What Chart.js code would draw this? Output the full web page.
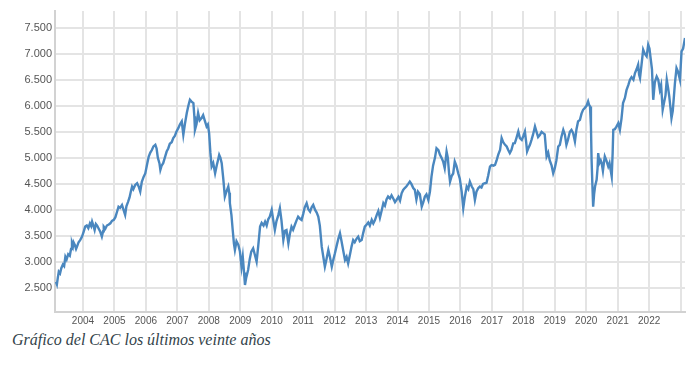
<!DOCTYPE html>
<html>
<head>
<meta charset="utf-8">
<script src="https://cdn.jsdelivr.net/npm/chart.js@4"></script>
<style>
body { margin: 0; background: #fff; }
#wrap { position: absolute; left: 0; top: 0; width: 694px; height: 330px; }
#caption {
  position: absolute; left: 12px; top: 331px;
  font-family: "Times New Roman", "Liberation Serif", Times, serif;
  font-style: italic; font-size: 16px; color: #33434a;
}
</style>
</head>
<body>
<div id="wrap"><canvas id="cacChart"></canvas></div>
<div id="caption">Gráfico del CAC los últimos veinte años</div>
<script>
// tick labels
const yearTicks = [2004, 2005, 2006, 2007, 2008, 2009, 2010, 2011, 2012, 2013, 2014, 2015, 2016, 2017, 2018, 2019, 2020, 2021, 2022, 2023];
const valueTicks = [2500, 3000, 3500, 4000, 4500, 5000, 5500, 6000, 6500, 7000, 7500];

// CAC 40 (decimal year, index points)
const years = [
2003.14, 2003.17, 2003.20, 2003.23, 2003.27, 2003.31, 2003.36, 2003.40, 2003.44, 2003.48, 2003.53, 2003.58, 2003.62, 2003.65, 2003.68, 2003.70, 2003.74, 2003.78, 2003.81, 2003.86, 2003.91, 2003.97,
2004.02, 2004.07, 2004.12, 2004.17, 2004.22, 2004.26, 2004.29, 2004.33, 2004.37, 2004.41, 2004.45, 2004.50, 2004.55, 2004.60, 2004.64, 2004.66, 2004.71, 2004.76, 2004.82, 2004.87, 2004.92, 2004.98,
2005.03, 2005.08, 2005.13, 2005.18, 2005.24, 2005.29, 2005.34, 2005.38, 2005.43, 2005.48, 2005.52, 2005.56, 2005.60, 2005.66, 2005.72, 2005.77, 2005.82, 2005.87, 2005.93, 2005.98,
2006.04, 2006.09, 2006.14, 2006.19, 2006.24, 2006.30, 2006.34, 2006.38, 2006.43, 2006.46, 2006.50, 2006.55, 2006.60, 2006.66, 2006.71, 2006.76, 2006.82, 2006.87, 2006.92, 2006.97,
2007.03, 2007.08, 2007.14, 2007.19, 2007.24, 2007.30, 2007.35, 2007.40, 2007.45, 2007.51, 2007.54, 2007.56, 2007.61, 2007.66, 2007.71, 2007.77, 2007.82, 2007.88, 2007.93, 2007.97,
2008.01, 2008.05, 2008.09, 2008.14, 2008.20, 2008.25, 2008.29, 2008.33, 2008.37, 2008.41, 2008.46, 2008.51, 2008.56, 2008.62, 2008.65, 2008.67, 2008.72, 2008.76, 2008.80, 2008.83, 2008.88, 2008.94, 2008.99,
2009.04, 2009.08, 2009.12, 2009.15, 2009.19, 2009.25, 2009.30, 2009.35, 2009.41, 2009.46, 2009.52, 2009.57, 2009.63, 2009.68, 2009.74, 2009.79, 2009.84, 2009.89, 2009.94,
2010.00, 2010.05, 2010.10, 2010.15, 2010.21, 2010.26, 2010.31, 2010.37, 2010.42, 2010.47, 2010.53, 2010.58, 2010.63, 2010.68, 2010.74, 2010.79, 2010.84, 2010.90, 2010.95,
2011.00, 2011.05, 2011.11, 2011.16, 2011.22, 2011.27, 2011.32, 2011.38, 2011.43, 2011.48, 2011.53, 2011.59, 2011.64, 2011.69, 2011.74, 2011.80, 2011.85, 2011.91, 2011.96,
2012.01, 2012.06, 2012.12, 2012.17, 2012.22, 2012.28, 2012.33, 2012.38, 2012.43, 2012.49, 2012.54, 2012.59, 2012.64, 2012.70, 2012.75, 2012.80, 2012.86, 2012.91, 2012.96,
2013.02, 2013.07, 2013.12, 2013.18, 2013.23, 2013.28, 2013.34, 2013.39, 2013.44, 2013.50, 2013.55, 2013.60, 2013.65, 2013.70, 2013.76, 2013.81, 2013.86, 2013.92, 2013.97,
2014.03, 2014.08, 2014.13, 2014.18, 2014.23, 2014.28, 2014.34, 2014.39, 2014.44, 2014.50, 2014.55, 2014.60, 2014.65, 2014.71, 2014.77, 2014.82, 2014.87, 2014.92, 2014.98,
2015.03, 2015.08, 2015.13, 2015.19, 2015.24, 2015.30, 2015.35, 2015.40, 2015.45, 2015.50, 2015.56, 2015.60, 2015.64, 2015.67, 2015.72, 2015.77, 2015.82, 2015.87, 2015.93, 2015.98,
2016.04, 2016.09, 2016.14, 2016.20, 2016.25, 2016.30, 2016.36, 2016.41, 2016.46, 2016.51, 2016.57, 2016.62, 2016.67, 2016.72, 2016.78, 2016.83, 2016.88, 2016.94, 2016.99,
2017.05, 2017.10, 2017.15, 2017.20, 2017.26, 2017.31, 2017.36, 2017.42, 2017.47, 2017.52, 2017.57, 2017.62, 2017.68, 2017.73, 2017.78, 2017.84, 2017.89, 2017.95,
2018.00, 2018.05, 2018.09, 2018.12, 2018.17, 2018.21, 2018.26, 2018.31, 2018.37, 2018.42, 2018.47, 2018.53, 2018.58, 2018.63, 2018.68, 2018.74, 2018.79, 2018.84, 2018.90, 2018.95,
2019.00, 2019.05, 2019.11, 2019.16, 2019.21, 2019.27, 2019.32, 2019.37, 2019.42, 2019.48, 2019.53, 2019.58, 2019.64, 2019.69, 2019.74, 2019.80, 2019.85, 2019.90, 2019.95,
2020.01, 2020.06, 2020.09, 2020.12, 2020.15, 2020.17, 2020.20, 2020.22, 2020.25, 2020.28, 2020.33, 2020.36, 2020.38, 2020.42, 2020.46, 2020.49, 2020.53, 2020.56, 2020.59, 2020.64, 2020.70, 2020.74, 2020.78, 2020.81, 2020.84, 2020.86, 2020.91, 2020.96,
2021.02, 2021.07, 2021.12, 2021.17, 2021.23, 2021.28, 2021.34, 2021.39, 2021.44, 2021.50, 2021.55, 2021.60, 2021.65, 2021.68, 2021.71, 2021.76, 2021.81, 2021.86, 2021.92, 2021.97,
2022.01, 2022.04, 2022.09, 2022.13, 2022.18, 2022.24, 2022.29, 2022.34, 2022.38, 2022.43, 2022.47, 2022.52, 2022.56, 2022.60, 2022.64, 2022.68, 2022.71, 2022.75, 2022.79, 2022.82, 2022.87, 2022.92, 2022.98,
2023.03, 2023.08, 2023.14
];
const cac = [
2620, 2570, 2700, 2813, 2780, 2880, 2950, 2920, 3102, 3050, 3150, 3120, 3250, 3360, 3300, 3380, 3330, 3250, 3295, 3380, 3420, 3487,
3580, 3680, 3700, 3650, 3740, 3690, 3775, 3700, 3615, 3730, 3700, 3640, 3580, 3487, 3590, 3680, 3640, 3700, 3720, 3743, 3790, 3808,
3860, 3960, 4063, 4040, 4096, 4000, 3904, 4070, 4150, 4240, 4350, 4448, 4400, 4480, 4513, 4450, 4352, 4540, 4640, 4700,
4880, 5025, 5100, 5150, 5220, 5250, 5180, 5000, 4898, 4769, 4850, 4898, 5000, 5121, 5180, 5270, 5300, 5378, 5420, 5500,
5571, 5640, 5700, 5442, 5650, 5860, 6000, 6115, 6080, 6052, 5800, 5538, 5650, 5860, 5720, 5763, 5820, 5700, 5602, 5640,
5474, 5100, 4833, 4900, 4705, 4850, 4950, 5058, 5000, 4898, 4600, 4256, 4350, 4448, 4330, 4129, 3900, 3615, 3350, 3231, 3400, 3327, 3200,
2910, 3100, 2800, 2558, 2700, 2846, 3050, 3200, 3263, 3150, 3006, 3300, 3680, 3750, 3700, 3775, 3700, 3820, 3871,
4000, 3800, 3615, 3780, 3900, 4032, 3800, 3423, 3600, 3615, 3359, 3550, 3679, 3620, 3720, 3800, 3871, 3830, 3808,
3920, 4050, 4129, 4020, 3968, 4050, 4096, 4000, 3950, 3871, 3700, 3294, 3100, 2910, 3050, 3231, 3100, 2910, 3050,
3167, 3300, 3450, 3551, 3400, 3200, 3038, 3100, 2974, 3150, 3300, 3423, 3380, 3450, 3487, 3400, 3423, 3560, 3679,
3720, 3760, 3700, 3808, 3740, 3800, 3904, 3980, 3850, 4000, 4129, 4080, 4200, 4256, 4220, 4280, 4224, 4150, 4192,
4250, 4180, 4320, 4385, 4420, 4450, 4500, 4544, 4500, 4420, 4385, 4200, 4350, 4300, 4063, 4150, 4256, 4300, 4192,
4350, 4641, 4850, 5000, 5186, 5150, 5058, 5000, 4929, 4800, 5122, 5000, 4700, 4544, 4650, 4700, 4929, 4850, 4705, 4600,
4350, 4032, 4250, 4448, 4400, 4544, 4450, 4400, 4192, 4350, 4420, 4448, 4430, 4500, 4513, 4520, 4650, 4833, 4860,
4850, 4865, 4950, 5058, 5150, 5378, 5300, 5250, 5218, 5150, 5090, 5150, 5280, 5282, 5380, 5506, 5380, 5346,
5420, 5506, 5300, 5122, 5200, 5250, 5346, 5450, 5602, 5500, 5400, 5442, 5500, 5474, 5450, 5026, 5100, 4950, 4850, 4705,
4800, 4950, 5218, 5250, 5400, 5538, 5450, 5250, 5350, 5500, 5538, 5480, 5314, 5550, 5700, 5731, 5850, 5923, 5955,
6000, 6083, 6020, 5987, 5600, 4962, 4400, 4064, 4300, 4450, 4577, 4800, 5090, 4900, 4950, 4898, 4750, 4900, 5026, 4950, 4833, 4900, 4750, 4640, 5100, 5538, 5550, 5600,
5667, 5538, 5750, 6051, 6150, 6300, 6400, 6500, 6550, 6500, 6628, 6700, 6788, 6600, 6532, 6800, 7077, 7000, 6949, 7173,
7100, 6949, 6700, 6115, 6450, 6564, 6500, 6308, 6400, 5923, 6050, 6200, 6500, 6350, 6179, 5950, 5763, 5900, 6200, 6436, 6724, 6650, 6500,
7045, 7100, 7300
];

function thousands(v) {
  return Math.floor(v / 1000) + "." + String(v % 1000).padStart(3, "0");
}

const ctx = document.getElementById("cacChart").getContext("2d");
new Chart(ctx, {
  type: "line",
  data: {
    datasets: [{
      data: years.map((x, i) => ({ x: x, y: cac[i] })),
      borderColor: "#4a87bf",
      borderWidth: 2.4,
      pointRadius: 0,
      tension: 0,
      fill: false
    }]
  },
  options: {
    responsive: true,
    maintainAspectRatio: false,
    animation: false,
    layout: { padding: { top: 11, right: 9, left: 0, bottom: 0 } },
    plugins: { legend: { display: false }, tooltip: { enabled: false } },
    scales: {
      x: {
        type: "linear",
        min: 2003.11,
        max: 2023.14,
        afterBuildTicks: function(axis) {
          axis.ticks = yearTicks.map(v => ({ value: v }));
        },
        afterFit: function(scale) { scale.height = 18; },
        grid: { color: "#e4e4e4", lineWidth: 2, drawTicks: false },
        border: { color: "#d2d2d2", width: 2 },
        ticks: {
          padding: 3,
          color: "#555",
          font: { family: "Arial, 'Liberation Sans', sans-serif", size: 10 },
          maxRotation: 0,
          autoSkip: false,
          callback: function(v) { return v === 2023 ? "" : String(v); }
        }
      },
      y: {
        min: 2040,
        max: 7820,
        afterBuildTicks: function(axis) {
          axis.ticks = valueTicks.map(v => ({ value: v }));
        },
        afterFit: function(scale) { scale.width = 55; },
        grid: { color: "#e4e4e4", lineWidth: 2, drawTicks: false },
        border: { color: "#d2d2d2", width: 2 },
        ticks: {
          padding: 3,
          color: "#555",
          font: { family: "Arial, 'Liberation Sans', sans-serif", size: 11 },
          callback: function(v) { return thousands(v); }
        }
      }
    }
  }
});
</script>
</body>
</html>
